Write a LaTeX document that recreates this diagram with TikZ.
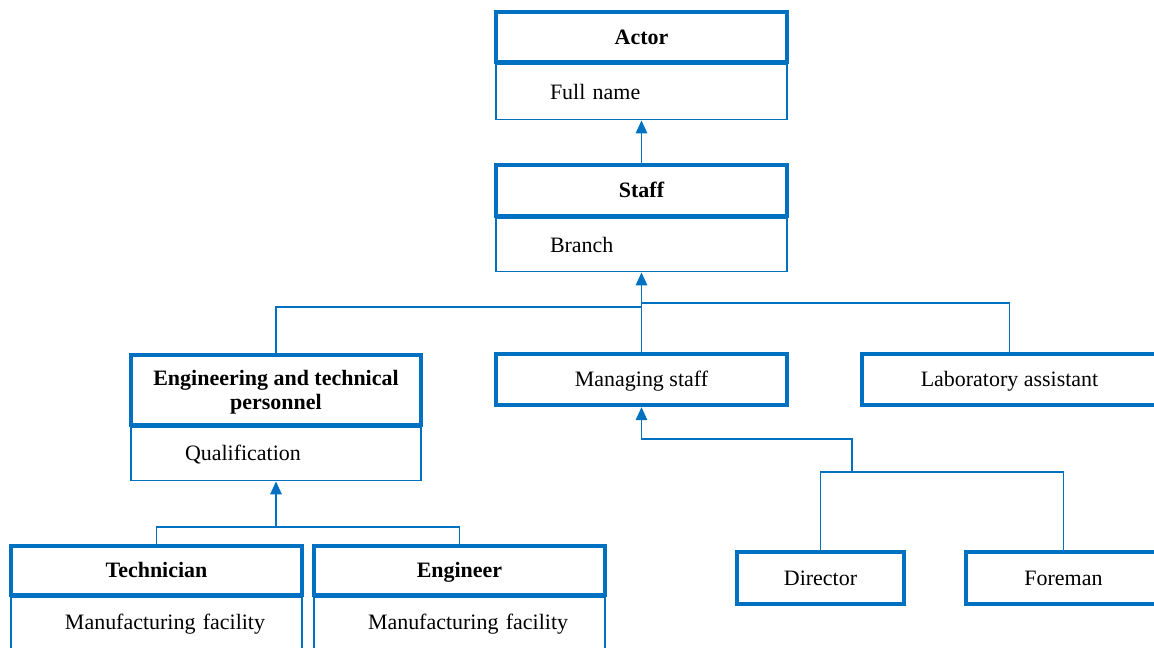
\documentclass[tikz,border=0pt]{standalone}
\usepackage{fontspec}
\setmainfont{Liberation Serif}
\usepackage{xcolor}
\usepackage{tikz}
\usetikzlibrary{arrows.meta,positioning}
\definecolor{ClassBlue}{RGB}{0,112,192}

\begin{document}
\begin{tikzpicture}[
            every node/.style={font=\fontsize{12.5}{13.5}\selectfont},
            boxbase/.style={draw=ClassBlue, line width=2.5pt, fill=white,
                         align=center, minimum width=5.82cm, minimum height=1cm,
                         inner sep=2pt, font=\fontsize{12.5}{13.5}\selectfont\bfseries},
            head/.style={boxbase, text height=1.85ex, text depth=0pt},
            plainbox/.style={head, font=\fontsize{12.5}{13.5}\selectfont},
            attr/.style={draw=ClassBlue, line width=0.7pt, text width=5.82cm,
                         inner xsep=0pt, minimum height=1.06cm, align=left},
            conn/.style={draw=ClassBlue, line width=0.85pt},
            arr/.style={conn, -{Triangle[length=2.6mm, width=2.3mm]}},
            node distance=0pt
        ]
            \useasboundingbox (0,0) rectangle (23.08,-12.96);

            \node[head] (actor) at (12.83,-0.74) {Actor};
            \node[attr, minimum height=1.1cm, below=of actor] (actorA) {\hspace*{1.08cm}Full name};

            \node[head, minimum height=1.02cm] (staff) at (12.83,-3.81) {Staff};
            \node[attr, below=of staff] (staffA) {\hspace*{1.08cm}Branch};

            \node[boxbase, minimum height=1.4cm, minimum width=5.8cm] (eng) at (5.52,-7.8)
                {\rule{0pt}{10.8pt}Engineering and technical\\personnel};
            \node[attr, text width=5.8cm, below=of eng] (engA) {\hspace*{1.08cm}Qualification};

            \node[plainbox, minimum height=1.02cm] (mng) at (12.83,-7.59) {Managing staff};
            \node[plainbox, minimum height=1.02cm, minimum width=5.9cm] (lab) at (20.19,-7.59) {Laboratory assistant};

            \node[head, minimum height=0.98cm] (tech) at (3.13,-11.41) {Technician};
            \node[attr, below=of tech] (techA) {\hspace*{1.08cm}Manufacturing facility};
            \node[head, minimum height=0.98cm] (engr) at (9.19,-11.41) {Engineer};
            \node[attr, below=of engr] (engrA) {\hspace*{1.08cm}Manufacturing facility};

            \node[plainbox, minimum width=3.34cm, minimum height=1.04cm] (dir) at (16.41,-11.56) {Director};
            \node[plainbox, minimum width=3.9cm, minimum height=1.04cm] (fore) at (21.27,-11.56) {Foreman};

            \coordinate (busL) at (12.83,-6.14);
            \coordinate (busR) at (12.83,-6.06);
            \coordinate (dirj) at (17.04,-9.44);
            \coordinate (mngj) at (17.04,-8.78);
            \coordinate (techj) at (5.52,-10.54);

            \draw[arr] (staff) -- (actorA);
            \draw[arr] (mng) -- (staffA);
            \draw[conn] (eng.north) |- (busL);
            \draw[conn] (lab.north) |- (busR);

            \draw[conn] (dir.north) |- (dirj) -| (fore.north);
            \draw[arr] (dirj) -- (mngj) -| (mng.south);

            \draw[conn] (tech.north) |- (techj) -| (engr.north);
            \draw[arr] (techj) -- (engA.south);

        \end{tikzpicture}
\end{document}
